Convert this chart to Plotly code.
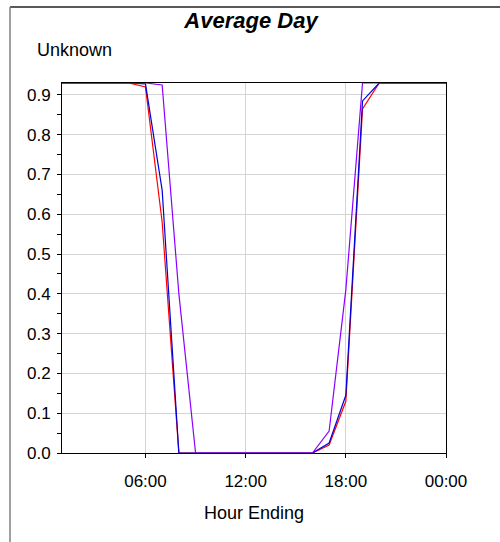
import plotly.graph_objects as go

# Hour ending (1..24, where 24 is shown as 00:00)
hours = list(range(1, 25))

series_red = [0.93, 0.93, 0.93, 0.93, 0.93, 0.92, 0.58, 0, 0, 0, 0, 0,
              0, 0, 0, 0, 0.02, 0.13, 0.865, 0.93, 0.93, 0.93, 0.93, 0.93]
series_blue = [0.93, 0.93, 0.93, 0.93, 0.93, 0.928, 0.66, 0, 0, 0, 0, 0,
               0, 0, 0, 0, 0.025, 0.145, 0.885, 0.93, 0.93, 0.93, 0.93, 0.93]
series_purple = [0.93, 0.93, 0.93, 0.93, 0.93, 0.93, 0.925, 0.40, 0, 0, 0, 0,
                 0, 0, 0, 0, 0.055, 0.41, 0.93, 0.93, 0.93, 0.93, 0.93, 0.93]

x_tick_vals = [6, 12, 18, 24]
x_tick_text = ["06:00", "12:00", "18:00", "00:00"]
y_tick_vals = [0.0, 0.1, 0.2, 0.3, 0.4, 0.5, 0.6, 0.7, 0.8, 0.9]
y_tick_text = ["0.0", "0.1", "0.2", "0.3", "0.4", "0.5", "0.6", "0.7", "0.8", "0.9"]

FONT = "Liberation Sans, Arial, sans-serif"

fig = go.Figure()
for vals, color in [(series_red, "#ff0000"), (series_blue, "#0000dd"), (series_purple, "#8a00ff")]:
    fig.add_trace(go.Scatter(x=hours, y=vals, mode="lines",
                             line=dict(color=color, width=1.2),
                             showlegend=False, hoverinfo="skip"))

fig.update_layout(
    width=500, height=542,
    margin=dict(l=62, r=54, t=83, b=89),
    paper_bgcolor="white", plot_bgcolor="white",
    font=dict(family=FONT, color="black", size=17),
    title=dict(text="<b><i>Average Day</i></b>", x=0.502, xref="container",
               y=1 - 20 / 542, yref="container", yanchor="middle", xanchor="center",
               font=dict(size=22, family=FONT, color="black")),
    xaxis=dict(range=[1, 24], tickvals=x_tick_vals, ticktext=x_tick_text,
               showgrid=True, gridcolor="#d4d4d4", gridwidth=1,
               ticks="outside", ticklen=4, tickcolor="black", tickwidth=1,
               showline=True, linecolor="black", linewidth=1, mirror=True,
               zeroline=False, ticklabelstandoff=9, layer="below traces",
               tickfont=dict(size=17, family=FONT),
               title=dict(text="Hour Ending", standoff=15,
                          font=dict(size=18, family=FONT))),
    yaxis=dict(range=[0, 0.93], tickvals=y_tick_vals, ticktext=y_tick_text,
               showgrid=True, gridcolor="#d4d4d4", gridwidth=1,
               ticks="outside", ticklen=4, tickcolor="black", tickwidth=1,
               minor=dict(dtick=0.05, tick0=0, ticks="outside", ticklen=4,
                          tickcolor="black", showgrid=False),
               showline=True, linecolor="black", linewidth=1, mirror=True,
               zeroline=False, ticklabelstandoff=3, layer="below traces",
               tickfont=dict(size=17, family=FONT)),
    annotations=[dict(text="Unknown", xref="paper", yref="paper",
                      x=(35 - 62) / 384, y=(453 - 50) / 370,
                      xanchor="left", yanchor="middle", showarrow=False,
                      font=dict(size=18, family=FONT, color="black"))],
    shapes=[
        # outer frame: top edge and left edge
        dict(type="line", xref="paper", yref="paper",
             x0=(10 - 62) / 384, x1=(500 - 62) / 384,
             y0=(453 - 7) / 370, y1=(453 - 7) / 370,
             line=dict(color="#222222", width=1.5)),
        dict(type="line", xref="paper", yref="paper",
             x0=(10 - 62) / 384, x1=(10 - 62) / 384,
             y0=(453 - 7) / 370, y1=(453 - 545) / 370,
             line=dict(color="#808080", width=1.5)),
    ],
)

fig.write_html("out.html")
